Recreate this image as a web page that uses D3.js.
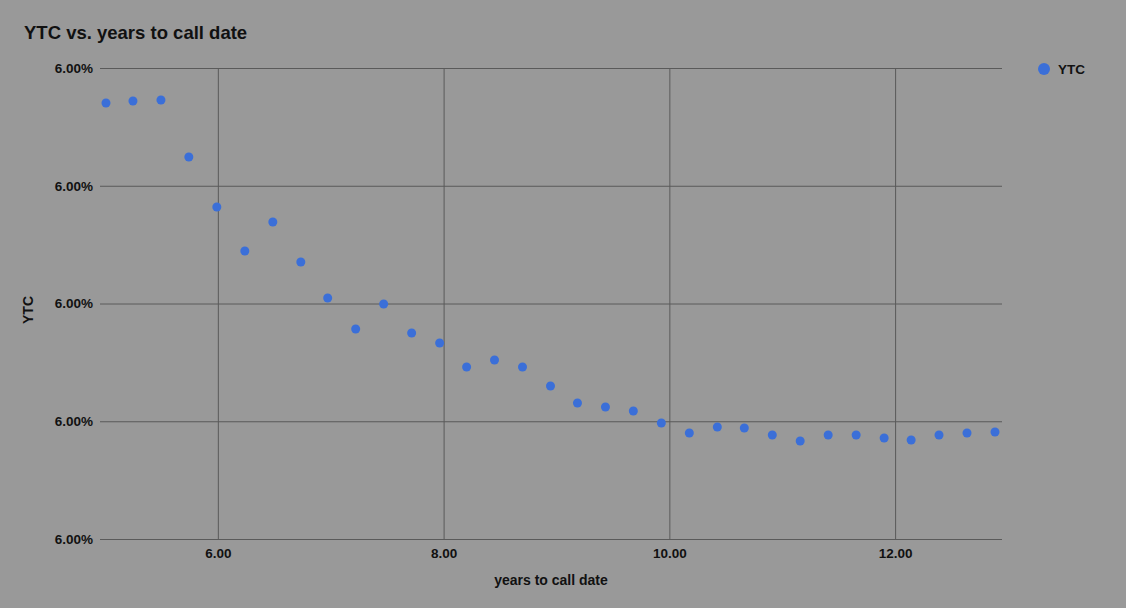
<!DOCTYPE html>
<html><head><meta charset="utf-8">
<script src="https://cdn.jsdelivr.net/npm/d3@7"></script>
<style>body{margin:0;background:#999999;font-family:"Liberation Sans",Arial,sans-serif;}</style>
</head><body><svg id="c" width="1126" height="608"></svg>
<script>
const years=[5.009,5.248,5.496,5.743,5.991,6.239,6.487,6.735,6.973,7.221,7.469,7.717,7.965,8.204,8.451,8.699,8.947,9.186,9.434,9.681,9.929,10.177,10.425,10.664,10.912,11.159,11.407,11.655,11.903,12.142,12.389,12.637,12.885];
const ytc=[3.703,3.720,3.728,3.244,2.820,2.446,2.692,2.352,2.047,1.783,1.996,1.749,1.665,1.461,1.520,1.461,1.299,1.155,1.121,1.087,0.985,0.900,0.951,0.943,0.883,0.832,0.883,0.883,0.858,0.841,0.883,0.900,0.909];
const yTicks=[0,1,2,3,4];
const yTickLabels=["6.00%","6.00%","6.00%","6.00%","6.00%"];
const xTicks=[6,8,10,12];

const svg=d3.select("#c");
svg.append("rect").attr("width",1126).attr("height",608).attr("fill","#999999");
const L=100,R=1002,T=68,B=539;
const x=d3.scaleLinear().domain([4.956,12.947]).range([L,R]);
const y=d3.scaleLinear().domain([0,4]).range([B,T]);
const g=svg.append("g");
g.append("g").attr("transform",`translate(0,${B})`)
 .call(d3.axisBottom(x).tickValues(xTicks).tickSize(-(B-T)).tickFormat(d3.format(".2f")))
 .call(a=>{a.select(".domain").remove();a.selectAll("line").attr("stroke","#5a5a5a");
   a.selectAll("text").attr("dy","1.2em").attr("font-size",13.5).attr("font-weight","bold").attr("fill","#111");});
g.append("g").attr("transform",`translate(${L},0)`)
 .call(d3.axisLeft(y).tickValues(yTicks).tickSize(-(R-L)).tickFormat((d,i)=>yTickLabels[i]))
 .call(a=>{a.select(".domain").remove();a.selectAll("line").attr("stroke","#5a5a5a");
   a.selectAll("text").attr("x",-7).attr("font-size",13.5).attr("font-weight","bold").attr("fill","#111");});
g.selectAll("circle.p").data(years).join("circle").attr("class","p")
 .attr("cx",d=>x(d)).attr("cy",(d,i)=>y(ytc[i])).attr("r",4.5).attr("fill","#3b6fd8");
svg.append("text").attr("x",24).attr("y",39).text("YTC vs. years to call date")
 .attr("font-size",18.5).attr("font-weight","bold").attr("fill","#111");
svg.append("text").attr("x",551).attr("y",585).attr("text-anchor","middle").text("years to call date")
 .attr("font-size",14).attr("font-weight","bold").attr("fill","#111");
svg.append("text").attr("transform","translate(33,310) rotate(-90)").attr("text-anchor","middle").text("YTC")
 .attr("font-size",14).attr("font-weight","bold").attr("fill","#111");
svg.append("circle").attr("cx",1044).attr("cy",69).attr("r",6).attr("fill","#3b6fd8");
svg.append("text").attr("x",1058).attr("y",74).text("YTC").attr("font-size",13.5).attr("font-weight","bold").attr("fill","#111");
</script></body></html>
